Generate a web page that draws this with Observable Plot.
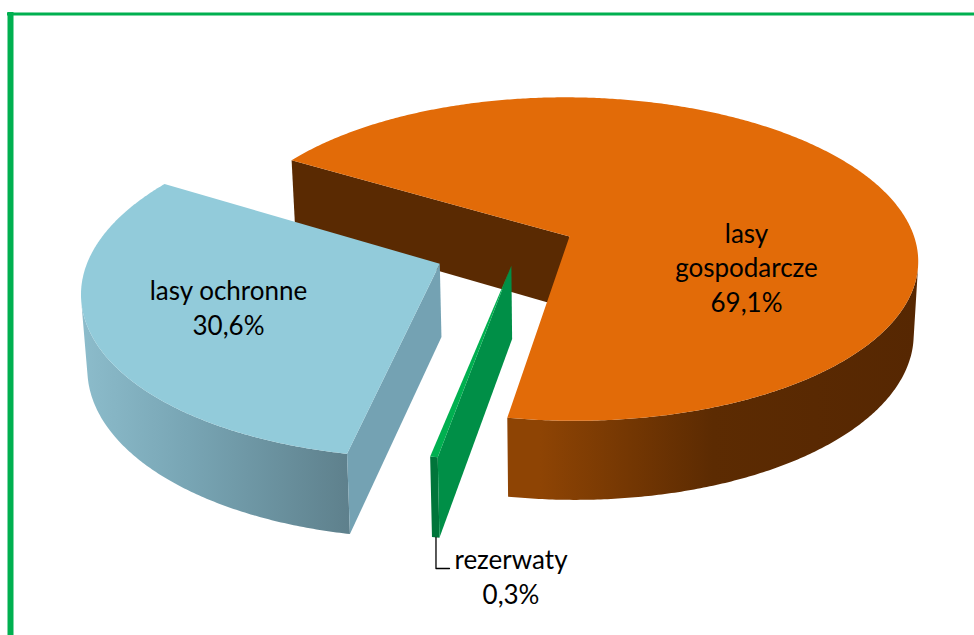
<!DOCTYPE html>
<html><head><meta charset="utf-8">
<style>html,body{margin:0;padding:0;background:#fff}svg{display:block}</style>
<script src="https://cdn.jsdelivr.net/npm/d3@7"></script>
<script src="https://cdn.jsdelivr.net/npm/@observablehq/plot@0.6"></script>
</head><body><div id="chart"></div>
<script>
// Data
const names = ["lasy gospodarcze", "rezerwaty", "lasy ochronne"];
const shares = [69.1, 0.3, 30.6];
const labels = ["lasy\ngospodarcze\n69,1%", "rezerwaty\n0,3%", "lasy ochronne\n30,6%"];

// Layout of the tilted, exploded pie
const startAngle = -59;
const origin = [569, 236], A = 344.6, B = 158.6, K = 0.1395, shear = 0.014;
const explode = [[0, 0], [-0.167, 0.18], [-0.37, 0.168]];
const labelX = [746, 510.5, 228], labelY = [265.5, 575, 306];
const topColors = ["#e26b08", "#00b050", "#92cbda"];
const wallColors = ["#5a2a02", "#008f47", "#74a2b3"];
const outerFills = ["url(#orangeSide)", "#00753a", "url(#blueSide)"];

const rad = d => d * Math.PI / 180;
function project(u, v, bottom) {
  const s = 1 / (1 - K * v);
  let x = origin[0] + A * (u + shear * v) * s, y = origin[1] + B * v * s;
  if (bottom) { x = origin[0] + (x - origin[0]) * 0.987; y += 29.8 + 42.4 * s; }
  return {x, y};
}
const onRim = (i, t, bottom) => project(Math.sin(rad(t)) + explode[i][0], -Math.cos(rad(t)) + explode[i][1], bottom);
const apex = (i, bottom) => project(explode[i][0], explode[i][1], bottom);
function arcAngles(t0, t1) {
  const n = Math.max(2, Math.ceil(Math.abs(t1 - t0) * 2));
  return d3.range(n + 1).map(k => t0 + (t1 - t0) * k / n);
}
// Keep only the stretch of the rim that faces the viewer, so the wall's ends are the silhouette
function frontAngles(i, t0, t1) {
  const ts = arcAngles(t0, t1);
  const front = ts.filter((t, k) => {
    if (k === ts.length - 1) return false;
    const p = onRim(i, t), q = onRim(i, ts[k + 1]), r = onRim(i, t, true);
    return (q.x - p.x) * (r.y - p.y) - (q.y - p.y) * (r.x - p.x) < 0;
  });
  front.push(ts[ts.indexOf(front[front.length - 1]) + 1]);
  return front;
}

const polys = [];
const add = (points, fill) => polys.push(Plot.line(points, {x: "x", y: "y", fill, stroke: "none", curve: "linear"}));
let angle = startAngle;
shares.forEach((share, i) => {
  const t0 = angle, t1 = angle + share * 3.6;
  angle = t1;
  const ft = frontAngles(i, t0, t1);
  add([...ft.map(t => onRim(i, t)), ...ft.map(t => onRim(i, t, true)).reverse()], outerFills[i]);
  add([apex(i), onRim(i, t0), onRim(i, t0, true), apex(i, true)], wallColors[i]);
  add([apex(i), ...arcAngles(t0, t1).map(t => onRim(i, t))], topColors[i]);
});

const defs = () => {
  const d = d3.create("svg:defs");
  const grad = (id, stops) => {
    const g = d.append("linearGradient").attr("id", id).attr("x1", 0).attr("x2", 1).attr("y1", 0).attr("y2", 0);
    stops.forEach(([o, c]) => g.append("stop").attr("offset", o).attr("stop-color", c));
  };
  grad("orangeSide", [[0, "#8e4404"], [0.08, "#8e4404"], [0.5, "#5c2b02"], [1, "#562702"]]);
  grad("blueSide", [[0, "#8cbccb"], [0.4, "#78a5b4"], [1, "#5e808c"]]);
  return d.node();
};

const leader = [onRim(1, startAngle + shares[0] * 3.6 + 0.5, true)];
leader.push({x: leader[0].x, y: 568}, {x: 449, y: 568});

const frameColor = "#00b050";
document.getElementById("chart").append(Plot.plot({
  width: 974, height: 635, margin: 0,
  x: {domain: [0, 974], range: [0, 974], axis: null},
  y: {domain: [0, 635], range: [0, 635], axis: null},
  style: {background: "#fff"},
  marks: [
    defs,
    Plot.ruleX([10], {y1: 12, y2: 635, stroke: frameColor, strokeWidth: 6}),
    Plot.ruleY([13.5], {x1: 7, x2: 974, stroke: frameColor, strokeWidth: 3}),
    ...polys,
    Plot.line(leader, {x: "x", y: "y", stroke: "#000", strokeWidth: 1.3}),
    Plot.text(labels, {
      x: (d, i) => labelX[i], y: (d, i) => labelY[i], text: d => d,
      fontFamily: "Lato", fontSize: 26, lineHeight: 1.33, fill: "#000", textAnchor: "middle"
    })
  ]
}));
</script></body></html>
